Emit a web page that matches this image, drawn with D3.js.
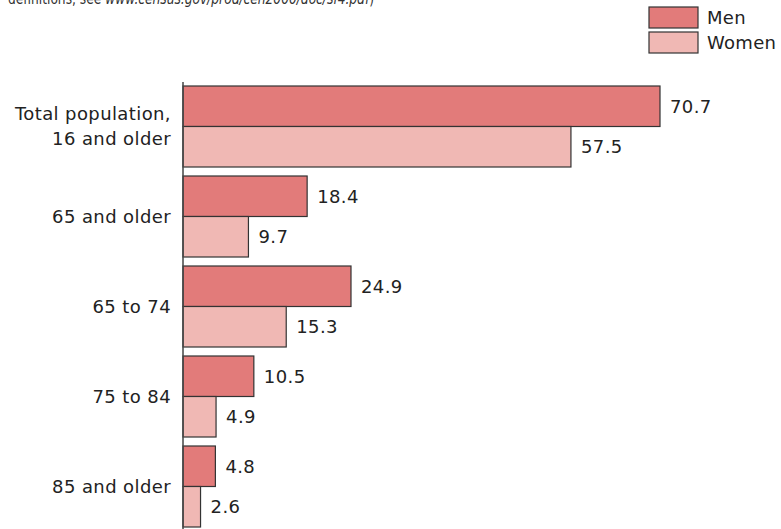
<!DOCTYPE html>
<html>
<head>
<meta charset="utf-8">
<script src="https://cdn.jsdelivr.net/npm/d3@7"></script>
<style>
  body { margin: 0; background: #fff; }
  svg text { font-family: "DejaVu Sans", sans-serif; fill: #222; }
</style>
</head>
<body>
<svg id="chart" width="781" height="529"></svg>
<script>
// age groups, top to bottom (multi-line labels split on '|')
const groups = ['Total population,|16 and older', '65 and older', '65 to 74', '75 to 84', '85 and older'];
const sexes = ['Men', 'Women'];
const menValues = [70.7, 18.4, 24.9, 10.5, 4.8];
const womenValues = [57.5, 9.7, 15.3, 4.9, 2.6];
const colors = ['#e27b7a', '#f0b8b4'];

const svg = d3.select('#chart');

// rows of data built from the arrays above
const rows = groups.map((g, i) => ({ group: g, values: [menValues[i], womenValues[i]] }));

const x = d3.scaleLinear()
    .domain([0, 70.7])
    .range([183, 660]);

const y = d3.scaleBand()
    .domain(groups)
    .range([81.5, 531.5])
    .paddingInner(0.1)
    .paddingOuter(0.05);

const ySex = d3.scaleBand()
    .domain(sexes)
    .range([0, y.bandwidth()]);

// cut-off note at the very top (squeezed to the width seen in the source)
const note = svg.append('text')
    .attr('x', 8)
    .attr('y', 4)
    .attr('textLength', 366)
    .attr('lengthAdjust', 'spacingAndGlyphs')
    .style('font-size', '15px')
    .style('fill', '#333');
note.append('tspan').text('definitions, see ');
note.append('tspan').style('font-style', 'italic').text('www.census.gov/prod/cen2000/doc/sf4.pdf');
note.append('tspan').text(')');

// bars
const group = svg.append('g').selectAll('g')
    .data(rows)
    .join('g')
    .attr('transform', d => `translate(0,${y(d.group)})`);

group.selectAll('rect')
    .data(d => d.values.map((v, i) => ({ sex: sexes[i], value: v, i })))
    .join('rect')
    .attr('x', x(0))
    .attr('y', d => ySex(d.sex))
    .attr('width', d => x(d.value) - x(0))
    .attr('height', ySex.bandwidth())
    .attr('fill', d => colors[d.i])
    .attr('stroke', '#333')
    .attr('stroke-width', 1.2);

group.selectAll('text.value')
    .data(d => d.values.map((v, i) => ({ sex: sexes[i], value: v })))
    .join('text')
    .attr('class', 'value')
    .attr('x', d => x(d.value) + 10)
    .attr('y', d => ySex(d.sex) + ySex.bandwidth() / 2)
    .attr('dy', '0.35em')
    .style('font-size', '18px')
    .style('letter-spacing', '0.4px')
    .text(d => d.value.toFixed(1));

// category labels
const labels = svg.append('g').selectAll('text')
    .data(groups)
    .join('text')
    .attr('text-anchor', 'end')
    .style('font-size', '18px')
    .style('letter-spacing', '0.4px');

labels.each(function(g) {
    const lines = g.split('|');
    const mid = y(g) + y.bandwidth() / 2;
    d3.select(this).selectAll('tspan')
        .data(lines)
        .join('tspan')
        .attr('x', 171)
        .attr('y', (d, i) => mid + (i - (lines.length - 1) / 2) * 25)
        .attr('dy', '0.35em')
        .text(d => d);
});

// vertical axis line
svg.append('line')
    .attr('x1', x(0)).attr('x2', x(0))
    .attr('y1', 82).attr('y2', 529)
    .attr('stroke', '#444')
    .attr('stroke-width', 1.5);

// legend
const legend = svg.append('g').selectAll('g')
    .data(sexes)
    .join('g')
    .attr('transform', (d, i) => `translate(649,${7 + i * 25})`);

legend.append('rect')
    .attr('width', 49)
    .attr('height', 21)
    .attr('fill', (d, i) => colors[i])
    .attr('stroke', '#333')
    .attr('stroke-width', 1.2);

legend.append('text')
    .attr('x', 58)
    .attr('y', 11)
    .attr('dy', '0.35em')
    .style('font-size', '18px')
    .style('letter-spacing', '0.3px')
    .text(d => d);
</script>
</body>
</html>
